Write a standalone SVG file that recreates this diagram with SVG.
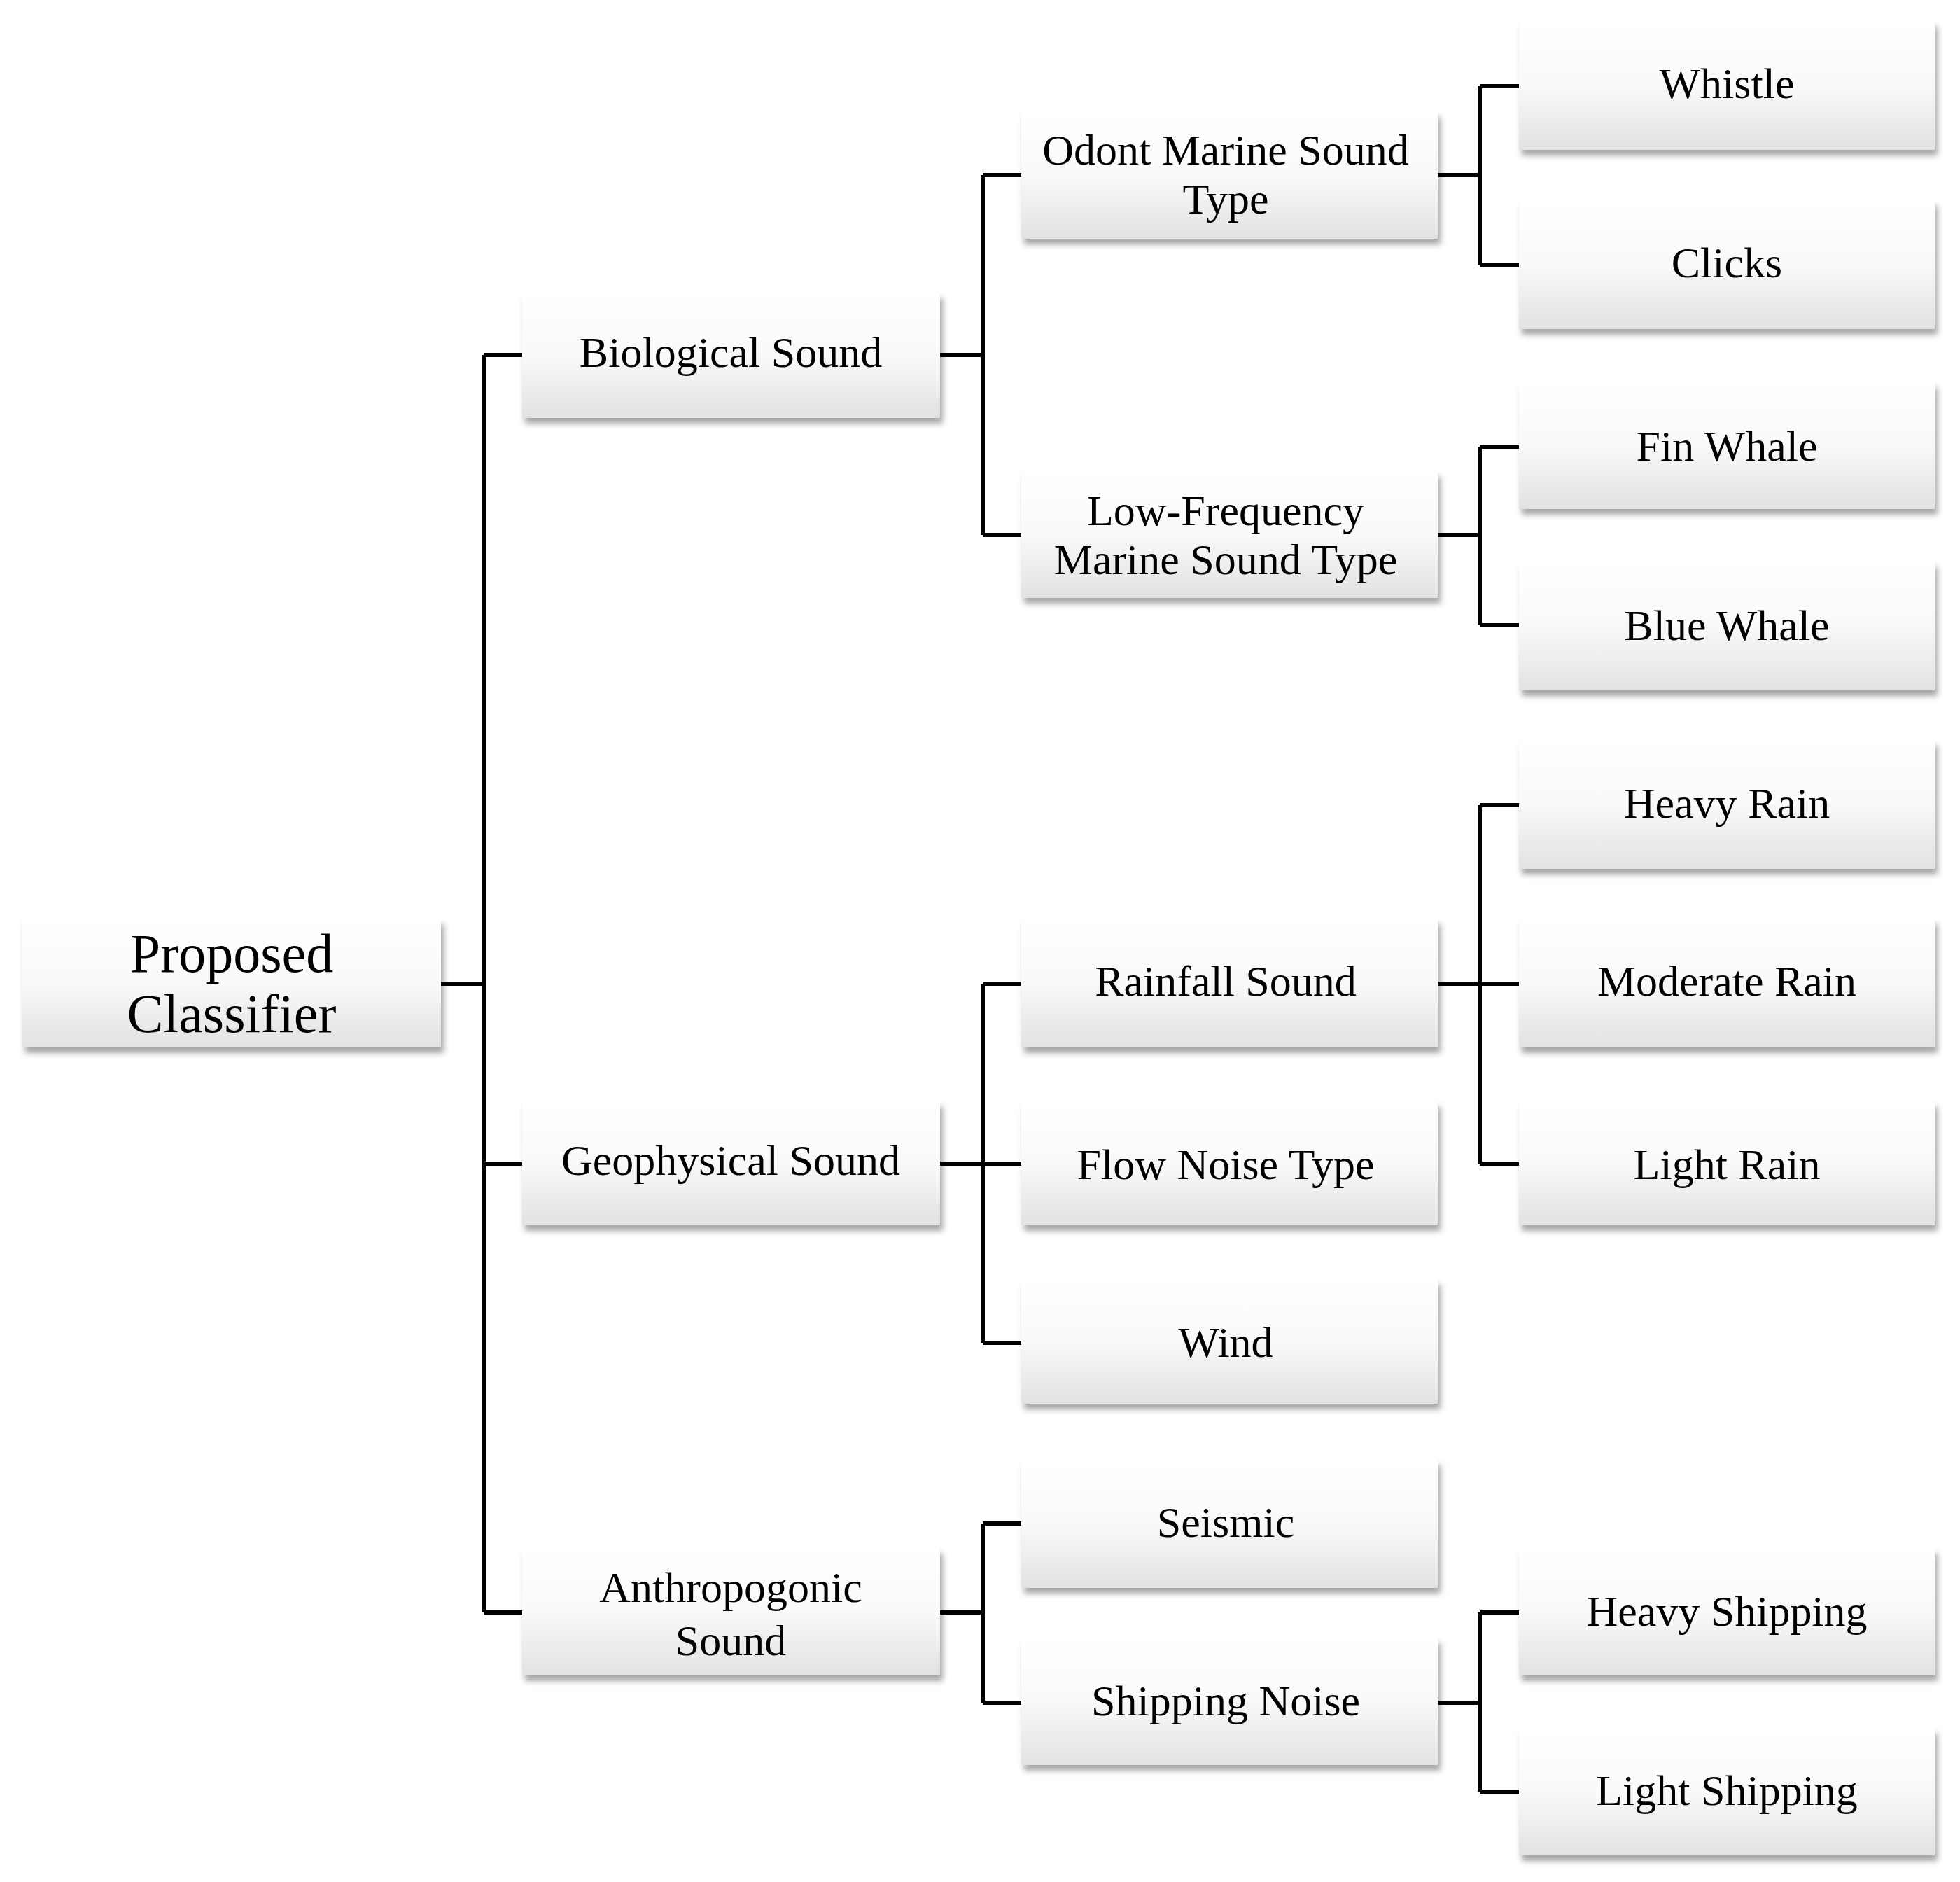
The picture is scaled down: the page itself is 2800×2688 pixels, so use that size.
<svg xmlns="http://www.w3.org/2000/svg" width="2800" height="2688" viewBox="0 0 2800 2688">
<defs>
<linearGradient id="g" x1="0" y1="0" x2="0" y2="1"><stop offset="0" stop-color="#ffffff"/><stop offset="0.5" stop-color="#f9f9f9"/><stop offset="1" stop-color="#e2e2e2"/></linearGradient>
<filter id="sh" x="-5%" y="-5%" width="115%" height="125%"><feDropShadow dx="4" dy="8" stdDeviation="4" flood-color="#000" flood-opacity="0.35"/></filter>
</defs>
<style>
rect{fill:url(#g);filter:url(#sh)}
text{font-family:"Liberation Serif","Times New Roman",serif;font-size:62px;fill:#000;text-anchor:middle}
.big{font-size:78px}
#connectors path{fill:none;stroke:#000;stroke-width:6}
</style>
<rect width="2800" height="2688" fill="#fff" style="fill:#fff;filter:none"/>
<g id="connectors">
<path d="M630 1405H691M691 507V2303M691 507H746M691 1662H746M691 2303H746"/>
<path d="M1343 507H1404M1404 250V764M1404 250H1459M1404 764H1459"/>
<path d="M1343 1662H1459M1404 1405V1918M1404 1405H1459M1404 1918H1459"/>
<path d="M1343 2303H1404M1404 2176V2432M1404 2176H1459M1404 2432H1459"/>
<path d="M2054 250H2114M2114 123V379M2114 123H2170M2114 379H2170"/>
<path d="M2054 764H2114M2114 638V893M2114 638H2170M2114 893H2170"/>
<path d="M2054 1405H2170M2114 1150V1662M2114 1150H2170M2114 1662H2170"/>
<path d="M2054 2432H2114M2114 2303V2559M2114 2303H2170M2114 2559H2170"/>
</g>
<g id="root"><rect x="32" y="1312" width="598" height="184"/><text class="big" x="331" y="1388">Proposed</text><text class="big" x="331" y="1474">Classifier</text></g>
<g id="bio"><rect x="746" y="418" width="597" height="179"/><text x="1044" y="524">Biological Sound</text></g>
<g id="geo"><rect x="746" y="1573" width="597" height="177"/><text x="1044" y="1678">Geophysical Sound</text></g>
<g id="anthro"><rect x="746" y="2211" width="597" height="182"/><text x="1044" y="2288">Anthropogonic</text><text x="1044" y="2364">Sound</text></g>
<g id="odont"><rect x="1459" y="159" width="595" height="182"/><text x="1751" y="235">Odont Marine Sound</text><text x="1751" y="305">Type</text></g>
<g id="lowfreq"><rect x="1459" y="673" width="595" height="181"/><text x="1751" y="750">Low-Frequency</text><text x="1751" y="820">Marine Sound Type</text></g>
<g id="rainfall"><rect x="1459" y="1312" width="595" height="184"/><text x="1751" y="1422">Rainfall Sound</text></g>
<g id="flow"><rect x="1459" y="1573" width="595" height="177"/><text x="1751" y="1684">Flow Noise Type</text></g>
<g id="wind"><rect x="1459" y="1827" width="595" height="178"/><text x="1751" y="1938">Wind</text></g>
<g id="seismic"><rect x="1459" y="2084" width="595" height="184"/><text x="1751" y="2195">Seismic</text></g>
<g id="shipping"><rect x="1459" y="2339" width="595" height="182"/><text x="1751" y="2450">Shipping Noise</text></g>
<g id="whistle"><rect x="2170" y="30" width="594" height="184"/><text x="2467" y="140">Whistle</text></g>
<g id="clicks"><rect x="2170" y="286" width="594" height="184"/><text x="2467" y="396">Clicks</text></g>
<g id="fin"><rect x="2170" y="546" width="594" height="181"/><text x="2467" y="658">Fin Whale</text></g>
<g id="blue"><rect x="2170" y="802" width="594" height="184"/><text x="2467" y="914">Blue Whale</text></g>
<g id="heavyrain"><rect x="2170" y="1057" width="594" height="184"/><text x="2467" y="1168">Heavy Rain</text></g>
<g id="moderaterain"><rect x="2170" y="1312" width="594" height="184"/><text x="2467" y="1422">Moderate Rain</text></g>
<g id="lightrain"><rect x="2170" y="1573" width="594" height="177"/><text x="2467" y="1684">Light Rain</text></g>
<g id="heavyship"><rect x="2170" y="2211" width="594" height="182"/><text x="2467" y="2322">Heavy Shipping</text></g>
<g id="lightship"><rect x="2170" y="2468" width="594" height="182"/><text x="2467" y="2578">Light Shipping</text></g>
</svg>
